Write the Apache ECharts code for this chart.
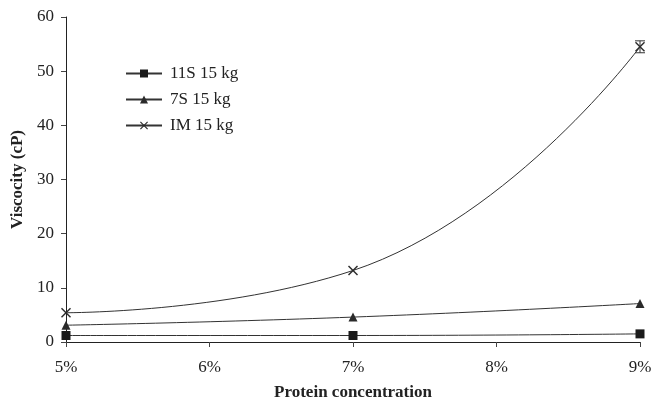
<!DOCTYPE html>
<html><head><meta charset="utf-8">
<script src="https://cdn.jsdelivr.net/npm/echarts@6/dist/echarts.min.js"></script>
<style>html,body{margin:0;padding:0;background:#fff}#c{width:651px;height:404px}</style>
</head><body><div id="c"></div>
<script>
const concentrations = [5, 7, 9];
const xTicks = [5, 6, 7, 8, 9];
const s11S = [1.2, 1.2, 1.5];
const s7S = [3.1, 4.6, 7.1];
const sIM = [5.4, 13.2, 54.5];
const imErr = [0, 0, 1.1];
const seriesNames = ['11S 15 kg', '7S 15 kg', 'IM 15 kg'];

const font = '"Liberation Serif", "Times New Roman", serif';
const xPath = 'path://M0,1L1,0L5,4L9,0L10,1L6,5L10,9L9,10L5,6L1,10L0,9L4,5Z';
const pair = v => concentrations.map((x, i) => [x, v[i]]);

const chart = echarts.init(document.getElementById('c'), null, {renderer: 'canvas'});
chart.setOption({
  animation: false,
  backgroundColor: '#fff',
  textStyle: {fontFamily: font},
  grid: {left: 66, right: 11, top: 17, bottom: 62, containLabel: false, outerBoundsMode: 'none'},
  legend: {
    orient: 'vertical', left: 125, top: 65, itemGap: 9, padding: 0,
    itemWidth: 36, itemHeight: 10,
    textStyle: {fontFamily: font, fontSize: 17, color: '#222', padding: [0, 0, 0, 3]},
    data: seriesNames
  },
  xAxis: {
    type: 'value', min: 5, max: 9, interval: 1,
    axisLine: {lineStyle: {color: '#222', width: 1}},
    axisTick: {show: true, length: 5, lineStyle: {color: '#444'}},
    splitLine: {show: false},
    axisLabel: {formatter: v => xTicks.includes(v) ? v + '%' : '', fontFamily: font, fontSize: 17, color: '#222', margin: 17},
    name: 'Protein concentration', nameLocation: 'middle', nameGap: 42,
    nameTextStyle: {fontFamily: font, fontSize: 17, fontWeight: 'bold', color: '#222'}
  },
  yAxis: {
    type: 'value', min: 0, max: 60, interval: 10,
    axisLine: {show: true, lineStyle: {color: '#222', width: 1}},
    axisTick: {show: true, length: 5, lineStyle: {color: '#444'}},
    splitLine: {show: false},
    axisLabel: {fontFamily: font, fontSize: 17, color: '#222', margin: 12},
    name: 'Viscocity (cP)', nameLocation: 'middle', nameGap: 39,
    nameTextStyle: {fontFamily: font, fontSize: 17, fontWeight: 'bold', color: '#222'}
  },
  series: [
    {name: seriesNames[0], type: 'line', data: pair(s11S), smooth: true,
     symbol: 'rect', symbolSize: 9, color: '#1a1a1a',
     lineStyle: {width: 1, color: '#333'}, itemStyle: {color: '#1a1a1a'}},
    {name: seriesNames[1], type: 'line', data: pair(s7S), smooth: true,
     symbol: 'triangle', symbolSize: 9, color: '#2a2a2a',
     lineStyle: {width: 1, color: '#333'}, itemStyle: {color: '#2a2a2a'}},
    {name: seriesNames[2], type: 'line', data: pair(sIM), smooth: 0.5,
     symbol: xPath, symbolSize: 10, color: '#2a2a2a',
     lineStyle: {width: 1, color: '#333'}, itemStyle: {color: '#2a2a2a'}},
    {name: 'err', type: 'custom', silent: true, z: 5,
     data: concentrations.map((x, i) => [x, sIM[i] - imErr[i], sIM[i] + imErr[i]]).filter((d, i) => imErr[i] > 0),
     renderItem: (params, api) => {
       const lo = api.coord([api.value(0), api.value(1)]);
       const hi = api.coord([api.value(0), api.value(2)]);
       const w = 5;
       const st = {stroke: '#333', lineWidth: 1};
       return {type: 'group', children: [
         {type: 'line', shape: {x1: lo[0], y1: lo[1], x2: hi[0], y2: hi[1]}, style: st},
         {type: 'line', shape: {x1: lo[0] - w, y1: lo[1], x2: lo[0] + w, y2: lo[1]}, style: st},
         {type: 'line', shape: {x1: hi[0] - w, y1: hi[1], x2: hi[0] + w, y2: hi[1]}, style: st}
       ]};
     }}
  ]
});
</script></body></html>
